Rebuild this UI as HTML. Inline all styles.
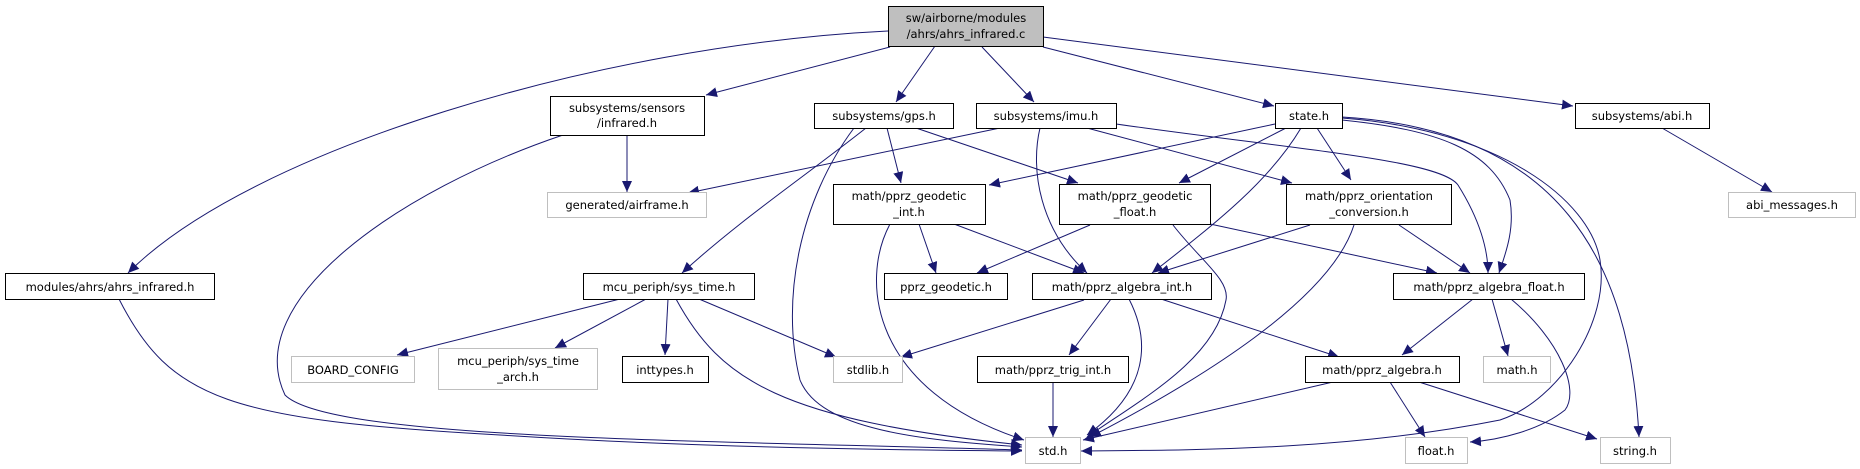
<!DOCTYPE html>
<html><head><meta charset="utf-8"><style>
html,body{margin:0;padding:0;background:#fff;}
svg{display:block;}
text{font-family:"DejaVu Sans","Liberation Sans",sans-serif;font-size:11.5px;fill:#000;text-anchor:middle;}
.n{fill:#fff;stroke:#000;stroke-width:1;}
.g{fill:#fff;stroke:#bfbfbf;stroke-width:1;}
.e{fill:none;stroke:#191970;stroke-width:1;marker-end:url(#a);}
</style></head><body>
<svg width="1860" height="469" viewBox="0 0 1860 469" xmlns="http://www.w3.org/2000/svg">
<defs><marker id="a" markerUnits="userSpaceOnUse" markerWidth="12" markerHeight="10" refX="11" refY="5" orient="auto"><path d="M0,0 L11,5 L0,10 z" fill="#191970"/></marker></defs>

<!-- edges -->
<path class="e" d="M888,31 C600,45 250,150 128,273"/>
<path class="e" d="M890,47 L706,95"/>
<path class="e" d="M935,46 L896,102"/>
<path class="e" d="M982,47 L1034,102"/>
<path class="e" d="M1043,47 L1274,106"/>
<path class="e" d="M1043,37 L1573,106"/>
<path class="e" d="M627,135 L627,192"/>
<path class="e" d="M563,135 C400,190 240,300 285,395 C330,440 700,440 1022,450"/>
<path class="e" d="M119,299 C170,400 230,420 500,435 C700,448 900,450 1022,451"/>
<path class="e" d="M1000,128 L688,193"/>
<path class="e" d="M887,128 L901,183"/>
<path class="e" d="M916,128 L1078,183"/>
<path class="e" d="M866,128 C800,180 740,220 682,273"/>
<path class="e" d="M854,128 C800,200 780,300 800,380 C820,430 920,440 1022,447"/>
<path class="e" d="M1040,128 C1030,170 1040,230 1087,273"/>
<path class="e" d="M1087,128 L1292,183"/>
<path class="e" d="M1116,124 C1300,150 1440,160 1458,185 C1480,220 1488,250 1488,273"/>
<path class="e" d="M1275,124 L989,185"/>
<path class="e" d="M1286,128 L1179,183"/>
<path class="e" d="M1317,128 L1351,180"/>
<path class="e" d="M1301,128 C1270,180 1220,220 1152,273"/>
<path class="e" d="M1342,120 C1440,130 1490,150 1510,200 C1515,230 1505,255 1499,273"/>
<path class="e" d="M1342,118 C1500,130 1590,200 1600,260 C1610,320 1560,400 1500,420 C1350,450 1200,450 1081,451"/>
<path class="e" d="M1342,117 C1560,130 1630,260 1639,437"/>
<path class="e" d="M919,224 L936,273"/>
<path class="e" d="M954,224 L1084,273"/>
<path class="e" d="M890,224 C860,280 870,390 1024,440"/>
<path class="e" d="M1090,225 L977,273"/>
<path class="e" d="M1173,225 C1200,260 1230,280 1226,300 C1215,360 1140,400 1087,437"/>
<path class="e" d="M1210,224 L1437,273"/>
<path class="e" d="M1310,225 L1158,273"/>
<path class="e" d="M1354,225 C1330,300 1200,380 1090,437"/>
<path class="e" d="M1399,225 L1470,273"/>
<path class="e" d="M1662,128 L1772,192"/>
<path class="e" d="M620,299 L397,355"/>
<path class="e" d="M646,299 L555,348"/>
<path class="e" d="M668,299 L665,355"/>
<path class="e" d="M699,299 L836,357"/>
<path class="e" d="M676,299 C720,380 780,420 1022,445"/>
<path class="e" d="M1084,300 L901,357"/>
<path class="e" d="M1111,299 L1069,355"/>
<path class="e" d="M1129,299 C1150,340 1150,390 1087,435"/>
<path class="e" d="M1161,299 L1339,357"/>
<path class="e" d="M1053,382 L1053,437"/>
<path class="e" d="M1473,299 L1402,355"/>
<path class="e" d="M1492,299 L1508,356"/>
<path class="e" d="M1511,299 C1560,340 1580,390 1565,410 C1540,430 1500,440 1470,442"/>
<path class="e" d="M1333,382 L1083,440"/>
<path class="e" d="M1390,382 L1425,437"/>
<path class="e" d="M1419,382 L1597,439"/>

<!-- nodes -->
<rect x="888.5" y="6.5" width="155" height="40" fill="#bfbfbf" stroke="#000"/>
<text x="966" y="22">sw/airborne/modules</text><text x="966" y="38">/ahrs/ahrs_infrared.c</text>

<rect class="n" x="550.5" y="96.5" width="154" height="39"/>
<text x="627" y="112">subsystems/sensors</text><text x="627" y="127">/infrared.h</text>
<rect class="n" x="814.5" y="103.5" width="139" height="25"/><text x="884" y="120">subsystems/gps.h</text>
<rect class="n" x="976.5" y="103.5" width="140" height="25"/><text x="1046" y="120">subsystems/imu.h</text>
<rect class="n" x="1275.5" y="103.5" width="67" height="25"/><text x="1309" y="120">state.h</text>
<rect class="n" x="1575.5" y="103.5" width="134" height="25"/><text x="1642" y="120">subsystems/abi.h</text>

<rect class="g" x="547.5" y="192.5" width="159" height="25"/><text x="627" y="209">generated/airframe.h</text>
<rect class="n" x="833.5" y="184.5" width="152" height="40"/>
<text x="909" y="200">math/pprz_geodetic</text><text x="909" y="216">_int.h</text>
<rect class="n" x="1059.5" y="184.5" width="151" height="40"/>
<text x="1135" y="200">math/pprz_geodetic</text><text x="1135" y="216">_float.h</text>
<rect class="n" x="1286.5" y="184.5" width="165" height="40"/>
<text x="1369" y="200">math/pprz_orientation</text><text x="1369" y="216">_conversion.h</text>
<rect class="g" x="1728.5" y="192.5" width="127" height="25"/><text x="1792" y="209">abi_messages.h</text>

<rect class="n" x="5.5" y="273.5" width="209" height="26"/><text x="110" y="291">modules/ahrs/ahrs_infrared.h</text>
<rect class="n" x="583.5" y="273.5" width="171" height="26"/><text x="669" y="291">mcu_periph/sys_time.h</text>
<rect class="n" x="884.5" y="273.5" width="123" height="26"/><text x="946" y="291">pprz_geodetic.h</text>
<rect class="n" x="1032.5" y="273.5" width="179" height="26"/><text x="1122" y="291">math/pprz_algebra_int.h</text>
<rect class="n" x="1393.5" y="273.5" width="191" height="26"/><text x="1489" y="291">math/pprz_algebra_float.h</text>

<rect class="g" x="291.5" y="356.5" width="123" height="26"/><text x="353" y="374">BOARD_CONFIG</text>
<rect class="g" x="438.5" y="348.5" width="159" height="41"/>
<text x="518" y="365">mcu_periph/sys_time</text><text x="518" y="381">_arch.h</text>
<rect class="n" x="622.5" y="356.5" width="86" height="26"/><text x="665" y="374">inttypes.h</text>
<rect class="g" x="833.5" y="356.5" width="69" height="26"/><text x="868" y="374">stdlib.h</text>
<rect class="n" x="977.5" y="356.5" width="151" height="26"/><text x="1053" y="374">math/pprz_trig_int.h</text>
<rect class="n" x="1305.5" y="356.5" width="154" height="26"/><text x="1382" y="374">math/pprz_algebra.h</text>
<rect class="g" x="1483.5" y="356.5" width="67" height="26"/><text x="1517" y="374">math.h</text>

<rect class="g" x="1025.5" y="437.5" width="55" height="26"/><text x="1053" y="455">std.h</text>
<rect class="g" x="1405.5" y="437.5" width="62" height="26"/><text x="1436" y="455">float.h</text>
<rect class="g" x="1600.5" y="437.5" width="70" height="26"/><text x="1635" y="455">string.h</text>
</svg>
</body></html>
